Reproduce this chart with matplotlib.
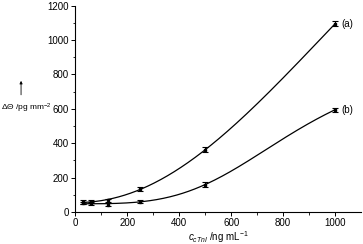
import numpy as np
import matplotlib.pyplot as plt

# concentrations (ng/mL) and responses (pg/mm^2)
conc = [31.25, 62.5, 125, 250, 500, 1000]
resp_a = [58, 60, 68, 133, 362, 1095]
resp_b = [52, 50, 42, 60, 160, 595]
err_a = [10, 10, 10, 12, 14, 15]
err_b = [8, 8, 8, 8, 12, 12]

plt.rcParams["font.family"] = "Liberation Sans"
plt.rcParams["mathtext.fontset"] = "custom"
plt.rcParams["mathtext.rm"] = "Liberation Sans"
plt.rcParams["mathtext.it"] = "Liberation Sans:italic"


def hill_fit(x, y):
    # crude Hill fit: grid over k, n; linear least squares for offset/amplitude
    x = np.asarray(x, float)
    y = np.asarray(y, float)
    best = None
    for k in np.linspace(300, 3000, 120):
        for n in np.linspace(1.0, 4.0, 61):
            h = x**n / (k**n + x**n)
            M = np.column_stack([np.ones_like(x), h])
            coef, *_ = np.linalg.lstsq(M, y, rcond=None)
            r = np.sum((M @ coef - y) ** 2)
            if best is None or r < best[0]:
                best = (r, k, n, coef)
    _, k, n, coef = best
    return lambda t: coef[0] + coef[1] * t**n / (k**n + t**n)


fig = plt.figure(figsize=(3.63, 2.44), dpi=100)
ax = fig.add_axes([0.207, 0.131, 0.788, 0.846])

xs = np.linspace(conc[0], conc[-1], 300)
for resp, err, lab in [(resp_a, err_a, "(a)"), (resp_b, err_b, "(b)")]:
    f = hill_fit(conc, resp)
    ax.plot(xs, f(xs), color="black", lw=0.9)
    ax.errorbar(conc, resp, yerr=err, fmt="s", ms=1.8, color="black",
                ecolor="black", elinewidth=0.8, capsize=2, capthick=0.8)
    ax.text(conc[-1] + 25, resp[-1], lab, fontsize=7, va="center")

ax.set_xlim(0, 1100)
ax.set_ylim(0, 1200)
ax.set_xticks([0, 200, 400, 600, 800, 1000])
ax.set_xticks(np.arange(100, 1100, 200), minor=True)
ax.set_yticks(np.arange(0, 1201, 200))
ax.set_yticks(np.arange(100, 1200, 200), minor=True)
ax.tick_params(labelsize=7, width=0.7, length=3, direction="out", pad=1.5)
ax.tick_params(which="minor", width=0.6, length=1.8)
for s in ["top", "right"]:
    ax.spines[s].set_visible(False)
for s in ["left", "bottom"]:
    ax.spines[s].set_linewidth(0.8)

ax.set_xlabel(r"$c_{\mathit{cTnI}}$ /ng mL$^{-1}$", fontsize=7, labelpad=1)
fig.text(0.004, 0.555, r"$\mathit{\Delta\Theta}$ /pg mm$^{-2}$", fontsize=6,
         va="center", ha="left")
fig.add_artist(plt.Annotation("", xy=(0.058, 0.68), xytext=(0.058, 0.6),
                              xycoords="figure fraction",
                              arrowprops=dict(arrowstyle="-|>", lw=0.6,
                                              color="black", mutation_scale=4)))

fig.savefig("out.png", dpi=100)
